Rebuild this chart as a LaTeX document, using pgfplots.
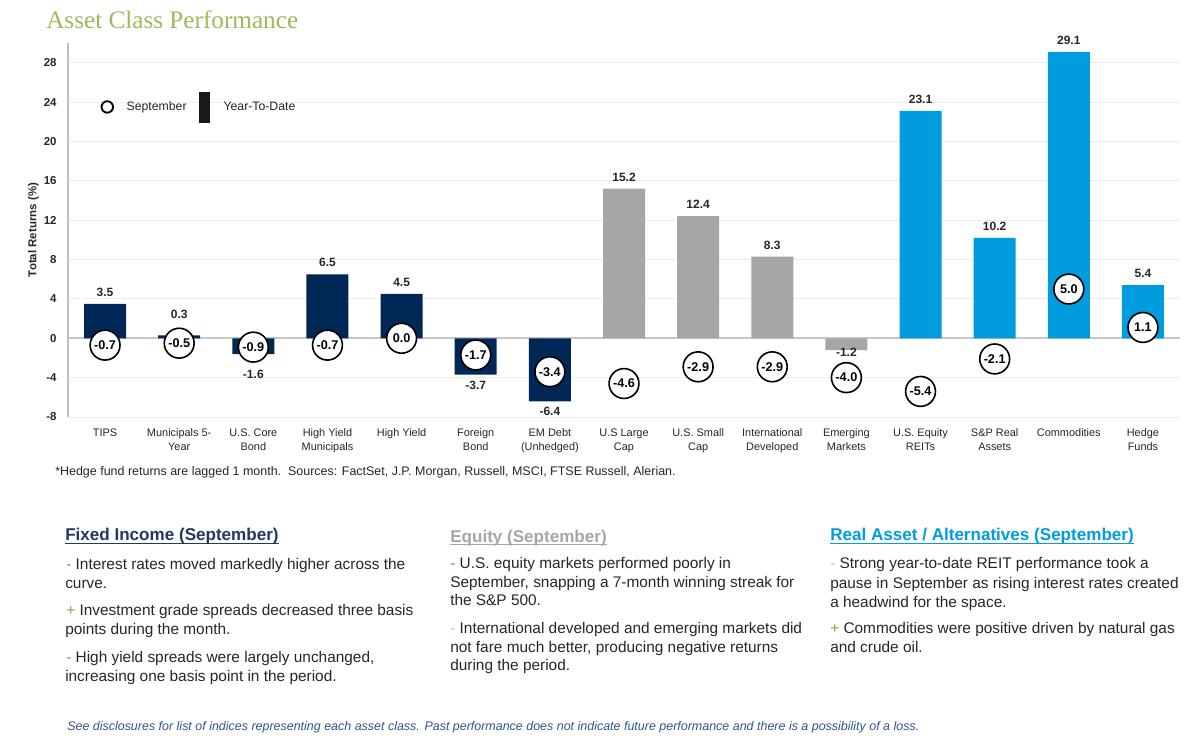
\documentclass[border=0pt]{standalone}
\usepackage{pgfplots}
\usepackage{pgfplotstable}
\pgfplotsset{compat=1.18}
\usepackage{fontspec}
\setmainfont{Liberation Sans}
\newfontfamily\seriffont{Liberation Serif}
\definecolor{navy}{RGB}{0,40,86}
\definecolor{eqgray}{RGB}{166,166,166}
\definecolor{reblue}{RGB}{0,156,222}
\definecolor{titlegreen}{RGB}{155,187,89}
\definecolor{headnavy}{RGB}{31,56,100}
\definecolor{txt}{RGB}{38,38,38}
\definecolor{minusred}{RGB}{225,90,90}
\definecolor{minuspink}{RGB}{242,165,165}
\definecolor{plusgreen}{RGB}{112,173,71}
\definecolor{discblue}{RGB}{45,85,145}

% x = category index, y = YTD return, l = label, dy = manual label offset (pt)
\pgfplotstableread{
x y l dy
0 3.5 3.5 0
1 0.3 0.3 0
2 -1.6 -1.6 -7.5
3 6.5 6.5 0
4 4.5 4.5 0
5 -3.7 -3.7 0
6 -6.4 -6.4 0
}\navyT
\pgfplotstableread{
x y l dy
7 15.2 15.2 0
8 12.4 12.4 0
9 8.3 8.3 0
10 -1.2 -1.2 6
}\grayT
\pgfplotstableread{
x y l dy
11 23.1 23.1 0
12 10.2 10.2 0
13 29.1 29.1 0
14 5.4 5.4 0
}\blueT
% September returns
\pgfplotstableread{
x y l
0 -0.7 -0.7
1 -0.5 -0.5
2 -0.9 -0.9
3 -0.7 -0.7
4 0.0 0.0
5 -1.7 -1.7
6 -3.4 -3.4
7 -4.6 -4.6
8 -2.9 -2.9
9 -2.9 -2.9
10 -4.0 -4.0
11 -5.4 -5.4
12 -2.1 -2.1
13 5.0 5.0
14 1.1 1.1
}\sepT

\pgfplotsset{ytdbar/.style={forget plot, ybar, bar width=31.5pt, bar shift=0pt, draw=none,
  point meta=explicit symbolic, nodes near coords,
  visualization depends on={rawy \as \rawy},
  visualization depends on={\thisrow{dy} \as \dy},
  every node near coord/.append style={font=\bfseries\fontsize{9}{10}\selectfont, text=txt,
    /utils/exec={\ifdim\rawy pt<0pt \def\myanc{north}\def\myshift{-1pt}\else\def\myanc{south}\ifdim\rawy pt<1pt \def\myshift{9pt}\else\def\myshift{2pt}\fi\fi},
    anchor=\myanc, yshift=\myshift, yshift=\dy pt}}}

\begin{document}
\begin{tikzpicture}
\begin{scope}[x=0.75pt,y=-0.75pt]
\path[use as bounding box] (0,0) rectangle (1200,741);
\end{scope}
\begin{axis}[
  at={(51pt,-312.75pt)}, anchor=south west,
  scale only axis, width=834pt, height=280.5pt,
  xmin=-0.5, xmax=14.5, ymin=-8, ymax=30,
  ytick={-8,-4,...,28},
  xtick={0,...,14},
  xticklabels={TIPS, {Municipals 5-\\Year}, {U.S. Core\\Bond}, {High Yield\\Municipals}, High Yield, {Foreign\\Bond}, {EM Debt\\(Unhedged)}, {U.S Large\\Cap}, {U.S. Small\\Cap}, {International\\Developed}, {Emerging\\Markets}, {U.S. Equity\\REITs}, {S\&P Real\\Assets}, Commodities, {Hedge\\Funds}},
  xticklabel style={align=center, font=\fontsize{8.2}{10.5}\selectfont, text=txt, yshift=-5pt},
  /pgf/number format/assume math mode=true,
  yticklabel style={font=\bfseries\fontsize{8.6}{10}\selectfont, text=txt, xshift=-5pt},
  ylabel={Total Returns (\%)},
  ylabel style={at={(axis description cs:-0.031,0.5)}, anchor=center, font=\bfseries\fontsize{8.6}{10}\selectfont, text=txt},
  axis y line*=left, axis x line*=bottom,
  x axis line style={draw=none},
  y axis line style={draw=black!25, line width=0.8pt},
  tick style={draw=none},
  ymajorgrids, major grid style={draw=black!7, line width=0.6pt},
  extra y ticks={0}, extra y tick labels={},
  extra y tick style={grid=major, major grid style={draw=black!22, line width=1.4pt}},
  legend style={at={(0.0255,0.829)}, anchor=west, draw=none, fill=none,
    font=\fontsize{9.2}{10}\selectfont, text=txt, legend columns=2,
    /tikz/every even column/.append style={column sep=7pt}},
  legend cell align=left,
  clip=false,
]
\addlegendimage{legend image code/.code={\draw[black, line width=1.4pt, fill=white] (4.5pt,0pt) circle (4.3pt); \path[draw=none,fill=none] (0,0) -- (17pt,0);}}
\addlegendentry{September}
\addlegendimage{legend image code/.code={\fill[black!90] (0pt,-11.25pt) rectangle (8pt,11.25pt); \path[draw=none,fill=none] (0,0) -- (16.5pt,0);}}
\addlegendentry{Year-To-Date}

\addplot[ytdbar, fill=navy] table[x=x,y=y,meta=l] {\navyT};
\addplot[ytdbar, fill=eqgray] table[x=x,y=y,meta=l] {\grayT};
\addplot[ytdbar, fill=reblue] table[x=x,y=y,meta=l] {\blueT};
\addplot[forget plot, only marks, mark=*, mark size=11.2pt,
  mark options={fill=white, draw=black, line width=1.2pt},
  point meta=explicit symbolic, nodes near coords, nodes near coords align=center,
  every node near coord/.append style={anchor=center, font=\bfseries\fontsize{9.5}{10}\selectfont, text=black}]
  table[x=x,y=y,meta=l] {\sepT};
\end{axis}

\begin{scope}[x=0.75pt,y=-0.75pt, every node/.style={inner sep=0pt, anchor=base west}]
\node[font=\seriffont\fontsize{18.9}{20}\selectfont, text=titlegreen] at (46,29) {Asset Class Performance};
\node[font=\fontsize{9.35}{10}\selectfont, text=txt] at (55,476) {*Hedge fund returns are lagged 1 month.\ \ Sources: FactSet, J.P. Morgan, Russell, MSCI, FTSE Russell, Alerian.};
% column 1
\node[font=\bfseries\fontsize{12.8}{14}\selectfont, text=headnavy] (h1) at (65,541) {Fixed Income (September)};
\draw[headnavy, line width=0.9pt] ([yshift=-2pt]h1.base west) -- ([yshift=-2pt]h1.base east);
\begin{scope}[every node/.append style={font=\fontsize{11.55}{14}\selectfont, text=txt}]
\node at (66,569) {\textcolor{minusred}{-} Interest rates moved markedly higher across the};
\node at (65,588) {curve.};
\node at (66,615) {\textcolor{plusgreen}{+} Investment grade spreads decreased three basis};
\node at (65,634) {points during the month.};
\node at (66,662) {\textcolor{minusred}{-} High yield spreads were largely unchanged,};
\node at (65,681) {increasing one basis point in the period.};
% column 2
\node[font=\bfseries\fontsize{12.8}{14}\selectfont, text=eqgray] (h2) at (450,542) {Equity (September)};
\node at (450,568) {\textcolor{minusred}{-} U.S. equity markets performed poorly in};
\node at (450,587) {September, snapping a 7-month winning streak for};
\node at (450,605) {the S\&P 500.};
\node at (450,633) {\textcolor{minuspink}{-} International developed and emerging markets did};
\node at (450,652) {not fare much better, producing negative returns};
\node at (450,670) {during the period.};
% column 3
\node[font=\bfseries\fontsize{12.8}{14}\selectfont, text=reblue] (h3) at (830,541) {Real Asset / Alternatives (September)};
\node at (830,568) {\textcolor{minuspink}{-} Strong year-to-date REIT performance took a};
\node at (830,588) {pause in September as rising interest rates created};
\node at (830,607) {a headwind for the space.};
\node at (830,633) {\textcolor{plusgreen}{+} Commodities were positive driven by natural gas};
\node at (830,652) {and crude oil.};
\end{scope}
\draw[eqgray, line width=0.9pt] ([yshift=-2pt]h2.base west) -- ([yshift=-2pt]h2.base east);
\draw[reblue, line width=0.9pt] ([yshift=-2pt]h3.base west) -- ([yshift=-2pt]h3.base east);
\node[font=\itshape\fontsize{9.35}{10}\selectfont, text=discblue] at (67,730) {See disclosures for list of indices representing each asset class. Past performance does not indicate future performance and there is a possibility of a loss.};
\end{scope}
\end{tikzpicture}
\end{document}
